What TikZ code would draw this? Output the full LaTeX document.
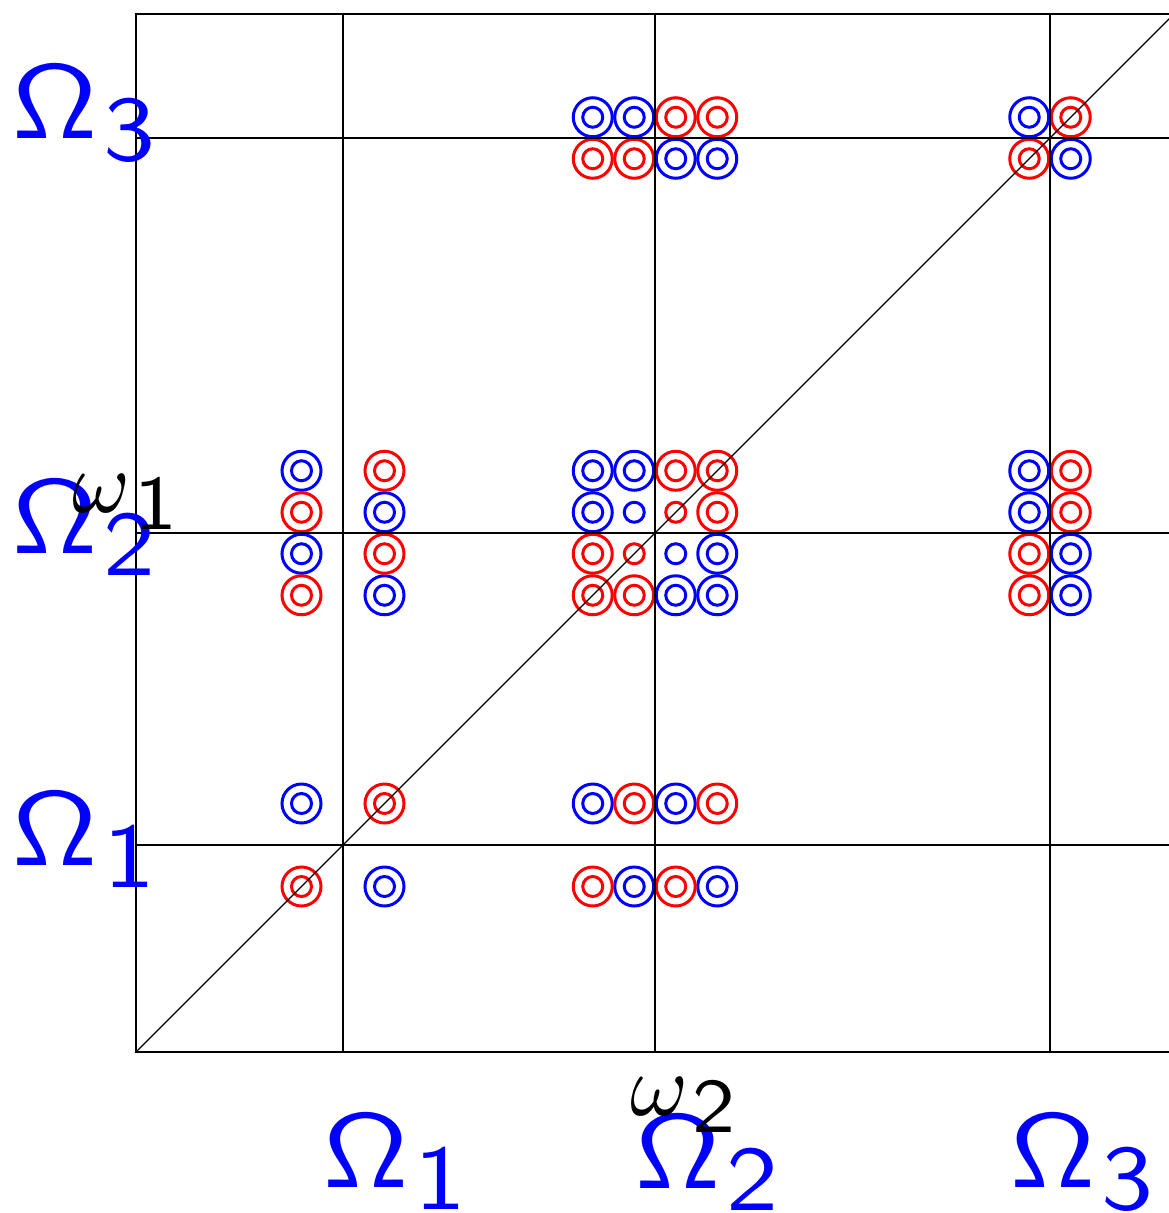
\documentclass[tikz,border=0pt]{standalone}
\usepackage{graphicx}
\definecolor{pblue}{RGB}{0,0,255}
\definecolor{pred}{RGB}{255,0,0}
\newcommand\OmLab[1]{\scalebox{11.8}[10.5]{$\mathsf{\Omega}$}\hspace{6pt}\raisebox{-22pt}{\scalebox{10.4}[9.2]{\textsf{#1}}}}
\newcommand\omLab[1]{\scalebox{8.8}{$\omega$}\hspace{4pt}\raisebox{-17pt}{\scalebox{8.6}[7.7]{\textsf{#1}}}}
\begin{document}
\begin{tikzpicture}[x=1pt,y=-1pt,
  gridline/.style={line width=1.2pt,black},
  ring/.style={line width=3pt},
  lab/.style={inner sep=0pt,anchor=base west,text=pblue},
  wlab/.style={inner sep=0pt,anchor=base west,text=black}]
\useasboundingbox (0,0) rectangle (1168,1213);
% rings
\foreach \x/\y in {592.75/117.25,634.25/117.25,675.75/158.75,717.25/158.75,
  1029.25/117.25,1070.75/158.75,
  301.5/470.75,301.5/553.75,384.5/512.25,384.5/595.25,
  592.75/470.75,634.25/470.75,592.75/512.25,717.25/553.75,675.75/595.25,717.25/595.25,
  1029.25/470.75,1029.25/512.25,1070.75/553.75,1070.75/595.25,
  301.5/803.5,384.5/886.5,
  592.75/803.5,675.75/803.5,634.25/886.5,717.25/886.5}
  \draw[ring,pblue] (\x,\y) circle[radius=19.5] (\x,\y) circle[radius=10];
\foreach \x/\y in {675.75/117.25,717.25/117.25,592.75/158.75,634.25/158.75,
  1070.75/117.25,1029.25/158.75,
  301.5/512.25,301.5/595.25,384.5/470.75,384.5/553.75,
  675.75/470.75,717.25/470.75,717.25/512.25,592.75/553.75,592.75/595.25,634.25/595.25,
  1070.75/470.75,1070.75/512.25,1029.25/553.75,1029.25/595.25,
  384.5/803.5,301.5/886.5,
  634.25/803.5,717.25/803.5,592.75/886.5,675.75/886.5}
  \draw[ring,pred] (\x,\y) circle[radius=19.5] (\x,\y) circle[radius=10];
\foreach \x/\y in {634.25/512.25,675.75/553.75}
  \draw[ring,pblue] (\x,\y) circle[radius=10];
\foreach \x/\y in {675.75/512.25,634.25/553.75}
  \draw[ring,pred] (\x,\y) circle[radius=10];
% frame and grid
\coordinate (o) at (136,1052);
\coordinate (tl) at (136,14);
\coordinate (tr) at (1174,14);
\coordinate (br) at (1174,1052);
\coordinate (xa1) at (343,1052); \coordinate (xb1) at (343,14);
\coordinate (xa2) at (655,1052); \coordinate (xb2) at (655,14);
\coordinate (xa3) at (1050,1052); \coordinate (xb3) at (1050,14);
\coordinate (ya1) at (136,845); \coordinate (yb1) at (1174,845);
\coordinate (ya2) at (136,533); \coordinate (yb2) at (1174,533);
\coordinate (ya3) at (136,138); \coordinate (yb3) at (1174,138);
\draw[gridline] (o) -- (tl) -- (tr) -- (br) -- cycle;
\foreach \i in {1,2,3} {
  \draw[gridline] (xa\i) -- (xb\i);
  \draw[gridline] (ya\i) -- (yb\i);
}
\draw[gridline] (o) -- (tr);
% labels
\node[lab] (L3) at (12,138) {\OmLab{3}};
\node[lab] (L2) at (12,553) {\OmLab{2}};
\node[lab] (L1) at (12,865) {\OmLab{1}};
\node[lab] (B1) at (323,1187) {\OmLab{1}};
\node[lab] (B2) at (635,1188) {\OmLab{2}};
\node[lab] (B3) at (1010,1187) {\OmLab{3}};
\node[wlab] (W1) at (72,512) {\omLab{1}};
\node[wlab] (W2) at (630,1115) {\omLab{2}};
\end{tikzpicture}
\end{document}
